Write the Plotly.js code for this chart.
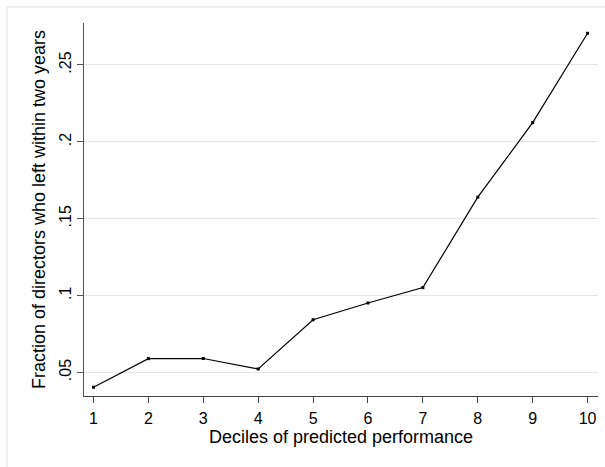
<!DOCTYPE html>
<html>
<head>
<meta charset="utf-8">
<script src="https://cdn.plot.ly/plotly-3.0.1.min.js"></script>
<style>
  html, body { margin: 0; padding: 0; background: #ffffff; }
  #chart { width: 605px; height: 467px; }
</style>
</head>
<body>
<div id="chart"></div>
<script>
// Data
const deciles = [1, 2, 3, 4, 5, 6, 7, 8, 9, 10];
const fractionLeft = [0.0404, 0.0590, 0.0591, 0.0523, 0.0843, 0.0952, 0.1052, 0.1640, 0.2125, 0.2706];
const yTickVals = [0.05, 0.10, 0.15, 0.20, 0.25];
const yTickText = ['.05', '.1', '.15', '.2', '.25'];
const xTickVals = deciles;

const W = 605, H = 467;
const M = {l: 84, r: 7, t: 23, b: 71};
const pw = W - M.l - M.r, ph = H - M.t - M.b;
const px = v => (v - M.l) / pw;
const py = v => (H - M.b - v) / ph;

const font = 'Arial, "Liberation Sans", Helvetica, sans-serif';

const trace = {
  x: deciles,
  y: fractionLeft,
  type: 'scatter',
  mode: 'lines+markers',
  line: {color: '#000000', width: 1.2},
  marker: {color: '#000000', size: 3, symbol: 'square'},
  hoverinfo: 'skip',
  showlegend: false
};

const frameColor = '#e9e9e9';

const layout = {
  width: W,
  height: H,
  margin: M,
  paper_bgcolor: '#ffffff',
  plot_bgcolor: '#ffffff',
  font: {family: font, color: '#000000'},
  showlegend: false,
  xaxis: {
    range: [0.827, 10.19],
    tickvals: xTickVals,
    ticktext: xTickVals.map(String),
    ticks: 'outside',
    ticklen: 6,
    tickwidth: 1,
    tickcolor: '#444444',
    ticklabelstandoff: 2,
    showline: true,
    linecolor: '#444444',
    linewidth: 1,
    showgrid: false,
    zeroline: false,
    tickfont: {family: font, size: 16, color: '#000000'},
    title: {text: 'Deciles of predicted performance', font: {family: font, size: 18, color: '#000000'}, standoff: 3}
  },
  yaxis: {
    range: [0.0347, 0.2773],
    tickvals: yTickVals,
    ticktext: yTickText,
    tickangle: -90,
    ticks: 'outside',
    ticklen: 6,
    tickwidth: 1,
    tickcolor: '#555555',
    showline: true,
    linecolor: '#555555',
    linewidth: 1,
    showgrid: true,
    gridcolor: '#e6e6e6',
    gridwidth: 1,
    zeroline: false,
    tickfont: {family: font, size: 16, color: '#000000'},
    title: {text: 'Fraction of directors who left within two years', font: {family: font, size: 18, color: '#000000'}, standoff: 6}
  },
  shapes: [
    {type: 'line', xref: 'paper', yref: 'paper', x0: px(7), x1: px(605), y0: py(7), y1: py(7), line: {color: frameColor, width: 1.5}},
    {type: 'line', xref: 'paper', yref: 'paper', x0: px(7), x1: px(7), y0: py(7), y1: py(467), line: {color: frameColor, width: 1.5}}
  ]
};

Plotly.newPlot('chart', [trace], layout, {staticPlot: true, displayModeBar: false});
</script>
</body>
</html>
